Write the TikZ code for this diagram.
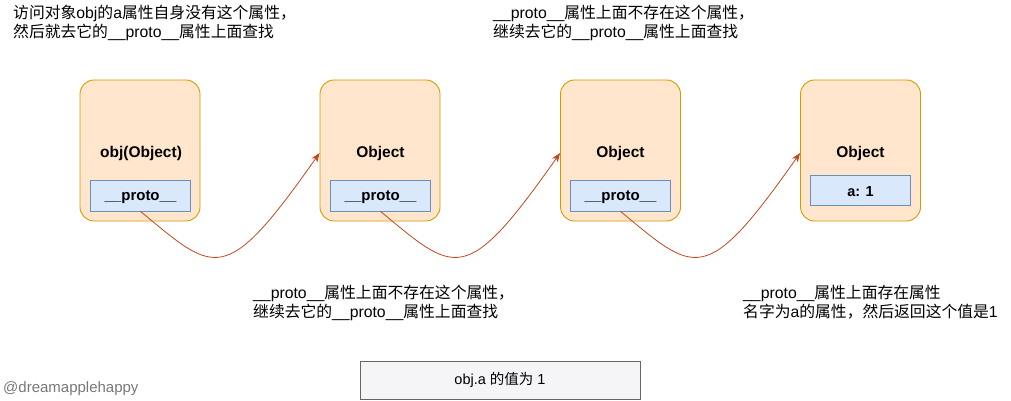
\documentclass[tikz,border=0pt]{standalone}
\usepackage{fontspec}
\setmainfont{Liberation Sans}
\newfontfamily\cjk{Noto Sans CJK SC}
\usetikzlibrary{arrows.meta}
\definecolor{objfill}{HTML}{FFE6CC}
\definecolor{objdraw}{HTML}{D79B00}
\definecolor{protofill}{HTML}{DAE8FC}
\definecolor{protodraw}{HTML}{6C8EBF}
\definecolor{arrowcol}{RGB}{192,72,28}
\definecolor{notefill}{HTML}{F5F4F7}
\definecolor{notedraw}{HTML}{666666}
\definecolor{signcol}{HTML}{777777}
\begin{document}
\begin{tikzpicture}[x=1pt,y=-1pt,
  objbox/.style={draw=objdraw,fill=objfill,line width=0.9pt,rounded corners=14pt,
    minimum width=120pt,minimum height=141pt,inner sep=0pt},
  objlabel/.style={inner sep=0pt,font=\fontsize{15.5}{18}\selectfont\bfseries},
  protobox/.style={draw=protodraw,fill=protofill,line width=0.8pt,
    minimum width=100pt,minimum height=31pt,inner sep=0pt},
  protolabel/.style={inner sep=0pt,font=\fontsize{15}{18}\selectfont\bfseries},
  link/.style={draw=arrowcol,line width=0.8pt,-{Stealth[length=9pt,width=7pt,inset=2.5pt]}},
  note/.style={align=left,inner sep=0pt,anchor=base west,font=\fontsize{15.8}{19}\selectfont},
]
\useasboundingbox (0,0) rectangle (1011,401);

\node[objbox] (b1) at (140,150.5) {};
\node[objbox] (b2) at (380,150.5) {};
\node[objbox] (b3) at (620.5,150.5) {};
\node[objbox] (b4) at (860.5,150.5) {};
\node[objlabel] (l1) at (141,153) {obj(Object)};
\node[objlabel] (l2) at (380.5,153) {Object};
\node[objlabel] (l3) at (620.5,153) {Object};
\node[objlabel] (l4) at (860.5,153) {Object};

\node[protobox] (p1) at (140.5,195.5) {};
\node[protobox] (p2) at (380.5,195.5) {};
\node[protobox] (p3) at (620.5,195.5) {};
\node[protobox,minimum height=30pt] (a1) at (860.5,190) {};
\node[protolabel] (q1) at (140.5,197.5) {\_\_proto\_\_};
\node[protolabel] (q2) at (380.5,197.5) {\_\_proto\_\_};
\node[protolabel] (q3) at (620.5,197.5) {\_\_proto\_\_};
\node[protolabel,font=\fontsize{14.5}{18}\selectfont\bfseries] (q4) at (860.5,192) {a: 1};

\coordinate (e2) at ([yshift=-2.5pt]b2.west);
\coordinate (e3) at ([yshift=-2.5pt]b3.west);
\coordinate (e4) at ([yshift=-2.5pt]b4.west);
\draw[link] (p1.south) .. controls +(75,62) and +(-95,135) .. (e2);
\draw[link] (p2.south) .. controls +(75,62) and +(-95,135) .. (e3);
\draw[link] (p3.south) .. controls +(75,62) and +(-95,135) .. (e4);

\node[note] (t1) at (13,38) {{\cjk 访问对象}obj{\cjk 的}a{\cjk 属性自身没有这个属性，}\\{\cjk 然后就去它的}\_\_proto\_\_{\cjk 属性上面查找}};
\node[note] (t2) at (493,38) {\_\_proto\_\_{\cjk 属性上面不存在这个属性，}\\{\cjk 继续去它的}\_\_proto\_\_{\cjk 属性上面查找}};
\node[note] (t3) at (253,317) {\_\_proto\_\_{\cjk 属性上面不存在这个属性，}\\{\cjk 继续去它的}\_\_proto\_\_{\cjk 属性上面查找}};
\node[note] (t4) at (743,317) {\_\_proto\_\_{\cjk 属性上面存在属性}\\{\cjk 名字为}a{\cjk 的属性，然后返回这个值是}1};

\node[draw=notedraw,fill=notefill,line width=0.8pt,minimum width=280pt,minimum height=38pt,inner sep=0pt,
  font=\fontsize{14.5}{18}\selectfont] (res) at (500,380) {obj.a {\cjk 的值为} 1};

\node[anchor=west,inner sep=0pt,text=signcol,font=\fontsize{15}{18}\selectfont] (sign) at (3,389) {@dreamapplehappy};
\end{tikzpicture}
\end{document}
